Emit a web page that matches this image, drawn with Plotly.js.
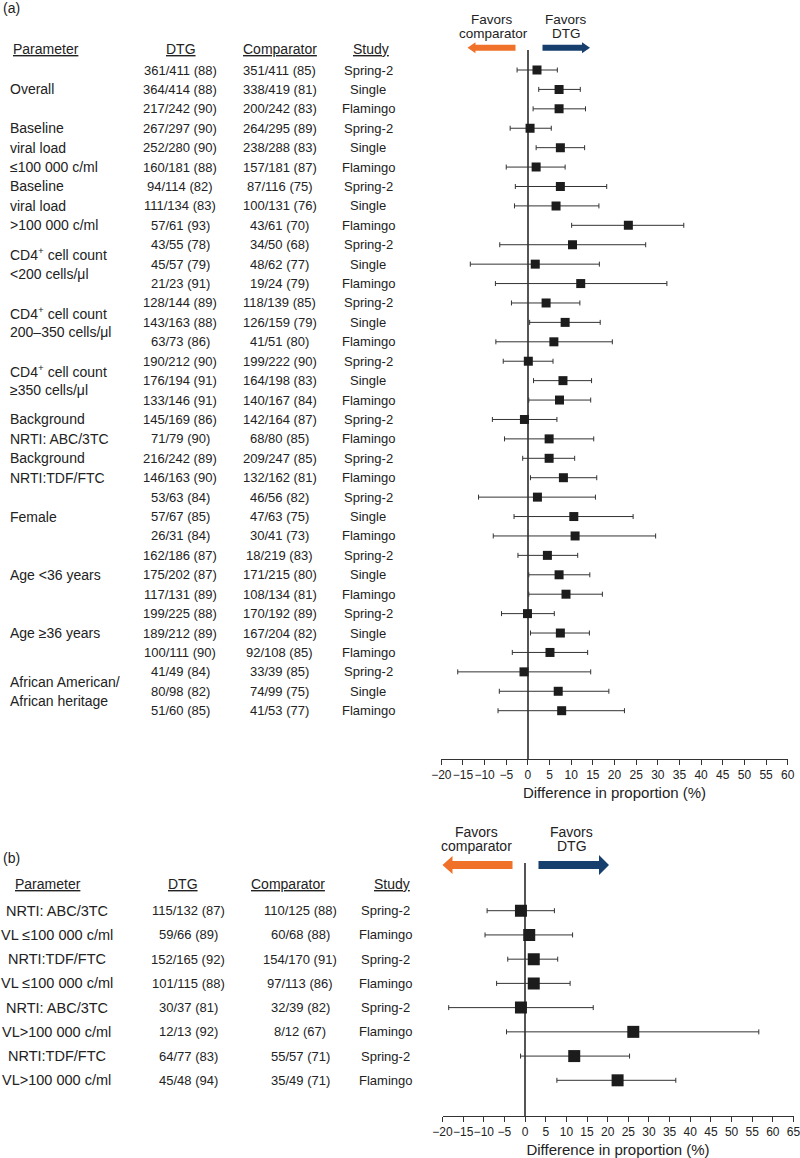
<!DOCTYPE html>
<html><head><meta charset="utf-8">
<script src="https://cdn.plot.ly/plotly-3.0.1.min.js"></script>
<style>html,body{margin:0;padding:0;background:#fff}</style>
</head><body><div id="chart" style="width:800px;height:1158px"></div>
<script>
// ---------- Panel (a) data ----------
const groupLabelsA = ['Overall', 'Baseline|viral load|≤100 000 c/ml', 'Baseline|viral load|&gt;100 000 c/ml',
  'CD4<sup>+</sup> cell count|&lt;200 cells/μl', 'CD4<sup>+</sup> cell count|200–350 cells/μl',
  'CD4<sup>+</sup> cell count|≥350 cells/μl', 'Background|NRTI: ABC/3TC', 'Background|NRTI:TDF/FTC',
  'Female', 'Age &lt;36 years', 'Age ≥36 years', 'African American/|African heritage'];
const groupSizesA = [3,3,3,3,3,3,2,2,3,3,3,3];
const studyA = ['Spring-2','Single','Flamingo','Spring-2','Single','Flamingo','Spring-2','Single','Flamingo',
  'Spring-2','Single','Flamingo','Spring-2','Single','Flamingo','Spring-2','Single','Flamingo',
  'Spring-2','Flamingo','Spring-2','Flamingo','Spring-2','Single','Flamingo','Spring-2','Single','Flamingo',
  'Spring-2','Single','Flamingo','Spring-2','Single','Flamingo'];
const dtgA = ['361/411 (88)','364/414 (88)','217/242 (90)','267/297 (90)','252/280 (90)','160/181 (88)',
  '94/114 (82)','111/134 (83)','57/61 (93)','43/55 (78)','45/57 (79)','21/23 (91)','128/144 (89)',
  '143/163 (88)','63/73 (86)','190/212 (90)','176/194 (91)','133/146 (91)','145/169 (86)','71/79 (90)',
  '216/242 (89)','146/163 (90)','53/63 (84)','57/67 (85)','26/31 (84)','162/186 (87)','175/202 (87)',
  '117/131 (89)','199/225 (88)','189/212 (89)','100/111 (90)','41/49 (84)','80/98 (82)','51/60 (85)'];
const compA = ['351/411 (85)','338/419 (81)','200/242 (83)','264/295 (89)','238/288 (83)','157/181 (87)',
  '87/116 (75)','100/131 (76)','43/61 (70)','34/50 (68)','48/62 (77)','19/24 (79)','118/139 (85)',
  '126/159 (79)','41/51 (80)','199/222 (90)','164/198 (83)','140/167 (84)','142/164 (87)','68/80 (85)',
  '209/247 (85)','132/162 (81)','46/56 (82)','47/63 (75)','30/41 (73)','18/219 (83)','171/215 (80)',
  '108/134 (81)','170/192 (89)','167/204 (82)','92/108 (85)','33/39 (85)','74/99 (75)','41/53 (77)'];
const estA = [2.1,7.2,7.2,0.5,7.5,1.9,7.5,6.5,23.2,10.3,1.7,12.2,4.2,8.6,6.0,0.1,8.1,7.3,-0.8,4.9,
  4.9,8.2,2.2,10.6,10.9,4.5,7.2,8.8,-0.1,7.5,5.1,-0.9,7.0,7.8];
const loA = [-2.5,2.5,1.2,-4.1,1.9,-5.0,-2.9,-3.1,10.1,-6.5,-13.3,-7.5,-3.8,0.4,-7.4,-5.7,1.3,0.2,-8.2,-5.4,
  -1.2,0.6,-11.4,-3.2,-8.0,-2.3,0.2,0.2,-6.1,0.6,-3.6,-16.2,-6.6,-6.9];
const hiA = [6.8,12.1,13.3,5.4,13.1,8.6,18.2,16.4,36.0,27.2,16.5,32.1,12.0,16.7,19.5,5.8,14.7,14.5,6.7,15.2,
  10.8,15.9,15.6,24.3,29.5,11.5,14.3,17.2,6.1,14.2,13.8,14.5,18.7,22.3];
const ticksA = [-20,-15,-10,-5,0,5,10,15,20,25,30,35,40,45,50,55,60];

// ---------- Panel (b) data ----------
const groupLabelsB = ['NRTI: ABC/3TC|VL ≤100 000 c/ml','NRTI:TDF/FTC|VL ≤100 000 c/ml',
  'NRTI: ABC/3TC|VL&gt;100 000 c/ml','NRTI:TDF/FTC|VL&gt;100 000 c/ml'];
const groupSizesB = [2,2,2,2];
const studyB = ['Spring-2','Flamingo','Spring-2','Flamingo','Spring-2','Flamingo','Spring-2','Flamingo'];
const dtgB = ['115/132 (87)','59/66 (89)','152/165 (92)','101/115 (88)','30/37 (81)','12/13 (92)','64/77 (83)','45/48 (94)'];
const compB = ['110/125 (88)','60/68 (88)','154/170 (91)','97/113 (86)','32/39 (82)','8/12 (67)','55/57 (71)','35/49 (71)'];
const estB = [-1.0,1.0,2.1,2.1,-1.0,26.2,11.9,22.4];
const loB = [-9.2,-9.7,-4.2,-6.9,-18.5,-4.5,-1.1,7.7];
const hiB = [7.1,11.5,7.9,10.9,16.5,56.6,25.3,36.5];
const ticksB = [-20,-15,-10,-5,0,5,10,15,20,25,30,35,40,45,50,55,60,65];

// ---------- helpers ----------
const W = 800, H = 1158;
const fx = v => v / W;
const fy = v => 1 - v / H;
const FONT = 'Liberation Sans, Arial, Helvetica, sans-serif';
const TXT = '#222';
const ORANGE = '#F07129', BLUE = '#173F6D';

const rowsA = dtgA.map((_, i) => i + 1);
const rowsB = dtgB.map((_, i) => i + 1);

const annotations = [];
function note(text, x, y, yref, size, anchor) {
  annotations.push({text, x, y, xref: 'paper', yref, showarrow: false,
    xanchor: anchor || 'center', yanchor: 'middle', font: {size, color: TXT, family: FONT}});
}

function table(rows, dtg, comp, study, labels, sizes, yref, cols, sizeLab, labAnchor) {
  rows.forEach((r, i) => {
    note(dtg[i], fx(cols.dtg), r, yref, 13);
    note(comp[i], fx(cols.comp), r, yref, 13);
    note(study[i], fx(cols.study), r, yref, 13);
  });
  let start = 1;
  labels.forEach((lab, g) => {
    const lines = lab.split('|');
    const center = start + (sizes[g] - 1) / 2;
    lines.forEach((ln, j) => {
      note(ln, fx(cols.lab), center + (j - (lines.length - 1) / 2), yref, sizeLab, labAnchor);
    });
    start += sizes[g];
  });
}

table(rowsA, dtgA, compA, studyA, groupLabelsA, groupSizesA, 'y',
  {dtg: 180, comp: 279.5, study: 368, lab: 8}, 14, 'left');
table(rowsB, dtgB, compB, studyB, groupLabelsB, groupSizesB, 'y2',
  {dtg: 188, comp: 300, study: 385, lab: 57}, 14.5, 'center');

// headers
function header(text, x, y, anchor) {
  annotations.push({text: '<u>' + text + '</u>', x: fx(x), y: fy(y), xref: 'paper', yref: 'paper',
    showarrow: false, xanchor: anchor, yanchor: 'middle', font: {size: 14, color: TXT, family: FONT}});
}
header('Parameter', 11, 48.5, 'left');
header('DTG', 180.5, 48.5, 'center');
header('Comparator', 279.5, 48.5, 'center');
header('Study', 371, 48.5, 'center');
header('Parameter', 13, 883.5, 'left');
header('DTG', 183, 883.5, 'center');
header('Comparator', 288, 883.5, 'center');
header('Study', 392, 883.5, 'center');

function pnote(text, x, y, size, anchor) {
  annotations.push({text, x: fx(x), y: fy(y), xref: 'paper', yref: 'paper', showarrow: false,
    xanchor: anchor || 'center', yanchor: 'middle', font: {size, color: TXT, family: FONT}});
}
pnote('(a)', 1, 8, 14, 'left');
pnote('(b)', 1, 858, 14, 'left');
pnote('Favors', 492, 19.5, 13.5);
pnote('comparator', 493, 33.5, 13.5);
pnote('Favors', 566, 19.5, 13.5);
pnote('DTG', 566, 33.5, 13.5);
pnote('Favors', 476.5, 832, 14);
pnote('comparator', 476.5, 845.5, 14);
pnote('Favors', 571.5, 832, 14);
pnote('DTG', 571.5, 845.5, 14);

// arrows as filled polygons (paper coordinates)
function arrow(tail, tip, yc, body, head, headLen) {
  const d = tip > tail ? 1 : -1;
  const base = tip - d * headLen;
  const pts = [[tail, yc - body / 2], [base, yc - body / 2], [base, yc - head / 2], [tip, yc],
    [base, yc + head / 2], [base, yc + body / 2], [tail, yc + body / 2]];
  return 'M' + pts.map(p => fx(p[0]).toFixed(5) + ',' + fy(p[1]).toFixed(5)).join(' L') + ' Z';
}
const shapes = [
  {type: 'path', xref: 'paper', yref: 'paper', path: arrow(515.5, 467.5, 47.7, 6, 11, 8), fillcolor: ORANGE, line: {width: 0}},
  {type: 'path', xref: 'paper', yref: 'paper', path: arrow(542.5, 590, 47.7, 6, 11, 8), fillcolor: BLUE, line: {width: 0}},
  {type: 'path', xref: 'paper', yref: 'paper', path: arrow(512.5, 442.5, 865, 8, 18, 10), fillcolor: ORANGE, line: {width: 0}},
  {type: 'path', xref: 'paper', yref: 'paper', path: arrow(538.5, 609, 865, 8, 20, 10), fillcolor: BLUE, line: {width: 0}}
];

// traces
const traceA = {
  type: 'scatter', mode: 'markers', x: estA, y: rowsA, xaxis: 'x', yaxis: 'y',
  marker: {symbol: 'square', size: 9, color: '#1c1c1c'},
  error_x: {type: 'data', symmetric: false,
    array: hiA.map((h, i) => h - estA[i]), arrayminus: loA.map((l, i) => estA[i] - l),
    color: '#333', thickness: 1, width: 2.5},
  hoverinfo: 'x'
};
const traceB = {
  type: 'scatter', mode: 'markers', x: estB, y: rowsB, xaxis: 'x2', yaxis: 'y2',
  marker: {symbol: 'square', size: 12, color: '#1c1c1c'},
  error_x: {type: 'data', symmetric: false,
    array: hiB.map((h, i) => h - estB[i]), arrayminus: loB.map((l, i) => estB[i] - l),
    color: '#333', thickness: 1, width: 2.5},
  hoverinfo: 'x'
};

function xax(domain, range, ticks, anchor) {
  return {domain, range, anchor, tickmode: 'array', tickvals: ticks,
    ticktext: ticks.map(t => t < 0 ? '−' + Math.abs(t) : String(t)),
    tickangle: 0, ticklabeloverflow: 'allow',
    showline: true, linecolor: '#333', linewidth: 1, ticks: 'outside', ticklen: 5, tickcolor: '#333',
    tickwidth: 1, tickfont: {size: 12, color: TXT, family: FONT}, showgrid: false,
    zeroline: true, zerolinecolor: '#555', zerolinewidth: 1.3,
    title: {text: 'Difference in proportion (%)', font: {size: 15, color: TXT, family: FONT}, standoff: 6},
    fixedrange: true};
}

const layout = {
  width: W, height: H, margin: {l: 0, r: 0, t: 0, b: 0},
  paper_bgcolor: '#fff', plot_bgcolor: '#fff', showlegend: false,
  font: {family: FONT, color: TXT},
  xaxis: xax([fx(441.3), fx(787.7)], [-20, 60], ticksA, 'y'),
  yaxis: {domain: [fy(759), fy(50)], range: [36.488, -0.03], visible: false, fixedrange: true},
  xaxis2: xax([fx(442.5), fx(793.5)], [-20, 65], ticksB, 'y2'),
  yaxis2: {domain: [fy(1116), fy(862.7)], range: [9.473, -0.981], visible: false, fixedrange: true},
  annotations, shapes
};

Plotly.newPlot('chart', [traceA, traceB], layout, {displayModeBar: false, staticPlot: true});
</script></body></html>
